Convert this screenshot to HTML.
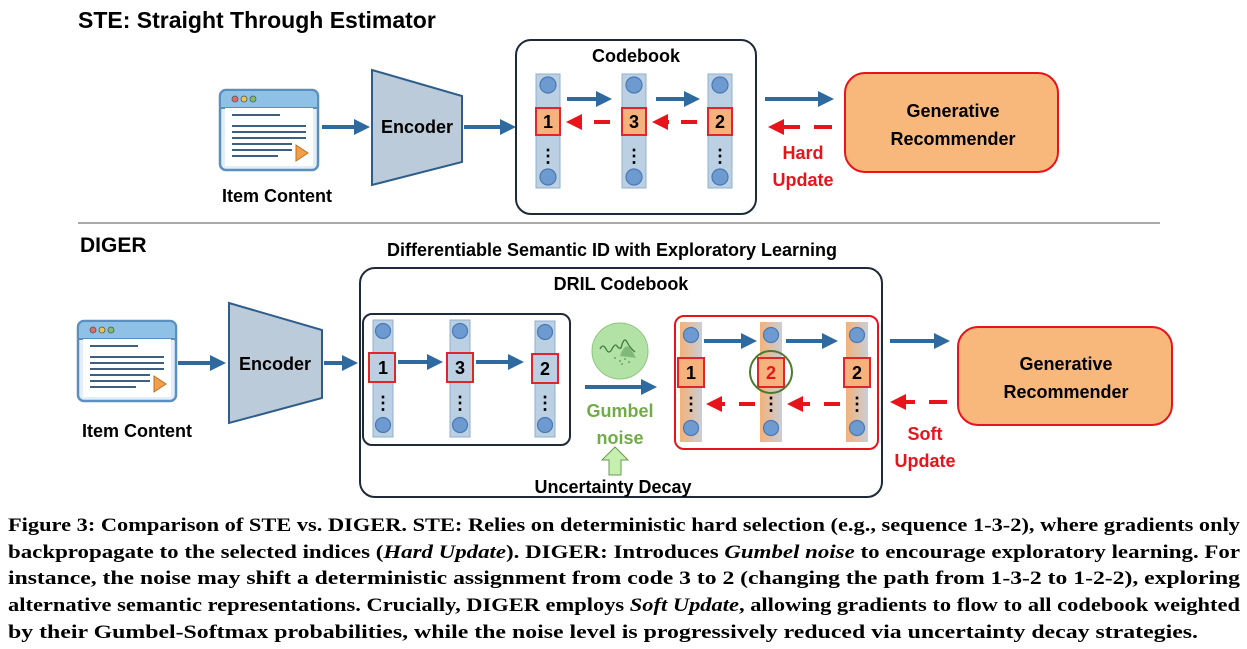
<!DOCTYPE html>
<html><head><meta charset="utf-8"><style>
html,body{margin:0;padding:0;background:#fff;width:1247px;height:649px;overflow:hidden}
svg{display:block}
.s{font-family:"Liberation Sans",sans-serif;font-weight:bold}
.c{font-family:"Liberation Serif",serif;font-weight:bold;font-size:19px}
</style></head><body>
<svg width="1247" height="649" viewBox="0 0 1247 649" xmlns="http://www.w3.org/2000/svg">
<defs>
<marker id="ab" markerWidth="4" markerHeight="4" refX="2.5" refY="2" orient="auto"><path d="M0,0 L4,2 L0,4 z" fill="#2e6aa0"/></marker>
<marker id="ar" markerWidth="4" markerHeight="4" refX="2.5" refY="2" orient="auto"><path d="M0,0 L4,2 L0,4 z" fill="#e8141c"/></marker>
<linearGradient id="og" x1="0" x2="1"><stop offset="0" stop-color="#f4b27a"/><stop offset="1" stop-color="#c9ced6"/></linearGradient>
<g id="icon">
<rect x="0" y="0" width="98" height="80" rx="6" fill="#e3eef8" stroke="#5a8fc0" stroke-width="2.5"/>
<path d="M0,6 a6,6 0 0 1 6,-6 h86 a6,6 0 0 1 6,6 v12 h-98z" fill="#8fc0e6" stroke="#5a8fc0" stroke-width="2"/>
<rect x="5" y="18" width="88" height="58" fill="#fff"/>
<circle cx="15" cy="9" r="3" fill="#e26a6a" stroke="#555" stroke-width="0.8"/>
<circle cx="24" cy="9" r="3" fill="#e8c64a" stroke="#555" stroke-width="0.8"/>
<circle cx="33" cy="9" r="3" fill="#7bc06a" stroke="#555" stroke-width="0.8"/>
<g stroke="#3f5f80" stroke-width="2"><line x1="12" y1="25" x2="60" y2="25"/><line x1="12" y1="36" x2="86" y2="36"/><line x1="12" y1="42" x2="86" y2="42"/><line x1="12" y1="48" x2="86" y2="48"/><line x1="12" y1="54" x2="72" y2="54"/><line x1="12" y1="60" x2="72" y2="60"/><line x1="12" y1="66" x2="58" y2="66"/></g>
<path d="M76,55 L88,63 L76,71z" fill="#f0a04a" stroke="#c07020" stroke-width="1"/>
</g>
</defs>

<!-- STE -->
<text x="78" y="28" class="s" font-size="23">STE: Straight Through Estimator</text>
<use href="#icon" x="220" y="90"/>
<text x="277" y="202" class="s" font-size="18" text-anchor="middle">Item Content</text>
<line x1="322" y1="127" x2="364" y2="127" stroke="#2e6aa0" stroke-width="4" marker-end="url(#ab)"/>
<path d="M372,70 L462,96 L462,162 L372,185z" fill="#bccbd9" stroke="#2e5d8c" stroke-width="2"/>
<text x="417" y="133" class="s" font-size="18" text-anchor="middle">Encoder</text>
<line x1="464" y1="127" x2="510" y2="127" stroke="#2e6aa0" stroke-width="4" marker-end="url(#ab)"/>
<rect x="516" y="40" width="240" height="174" rx="15" fill="#fff" stroke="#1e2a3a" stroke-width="2"/>
<text x="636" y="62" class="s" font-size="18" text-anchor="middle">Codebook</text>
<g>
<rect x="536" y="74" width="24" height="114" fill="#bcd0e4" stroke="#8fb0d0"/>
<rect x="622" y="74" width="24" height="114" fill="#bcd0e4" stroke="#8fb0d0"/>
<rect x="708" y="74" width="24" height="114" fill="#bcd0e4" stroke="#8fb0d0"/>
<g fill="#6d9bd1" stroke="#4a79b0" stroke-width="1.2">
<circle cx="548" cy="85" r="8"/><circle cx="548" cy="177" r="8"/>
<circle cx="634" cy="85" r="8"/><circle cx="634" cy="177" r="8"/>
<circle cx="720" cy="85" r="8"/><circle cx="720" cy="177" r="8"/></g>
<g fill="#f6b27c" stroke="#e0262a" stroke-width="2">
<rect x="536" y="108" width="24" height="27"/><rect x="622" y="108" width="24" height="27"/><rect x="708" y="108" width="24" height="27"/></g>
<g class="s" font-size="18" text-anchor="middle"><text x="548" y="128">1</text><text x="634" y="128">3</text><text x="720" y="128">2</text></g>
<g class="s" font-size="18" text-anchor="middle"><text x="548" y="162">⋮</text><text x="634" y="162">⋮</text><text x="720" y="162">⋮</text></g>
</g>
<line x1="567" y1="99" x2="606" y2="99" stroke="#2e6aa0" stroke-width="4" marker-end="url(#ab)"/>
<line x1="656" y1="99" x2="694" y2="99" stroke="#2e6aa0" stroke-width="4" marker-end="url(#ab)"/>
<line x1="610" y1="122" x2="572" y2="122" stroke="#e8141c" stroke-width="4" stroke-dasharray="16,12" marker-end="url(#ar)"/>
<line x1="697" y1="122" x2="658" y2="122" stroke="#e8141c" stroke-width="4" stroke-dasharray="16,12" marker-end="url(#ar)"/>
<line x1="765" y1="99" x2="828" y2="99" stroke="#2e6aa0" stroke-width="4" marker-end="url(#ab)"/>
<line x1="832" y1="127" x2="774" y2="127" stroke="#e8141c" stroke-width="4" stroke-dasharray="18,14" marker-end="url(#ar)"/>
<text x="803" y="159" class="s" font-size="18" fill="#e8141c" text-anchor="middle">Hard</text>
<text x="803" y="186" class="s" font-size="18" fill="#e8141c" text-anchor="middle">Update</text>
<rect x="845" y="73" width="213" height="99" rx="20" fill="#f8b87c" stroke="#e8141c" stroke-width="2"/>
<text x="953" y="117" class="s" font-size="18" text-anchor="middle">Generative</text>
<text x="953" y="145" class="s" font-size="18" text-anchor="middle">Recommender</text>

<line x1="78" y1="223" x2="1160" y2="223" stroke="#555" stroke-width="1"/>

<!-- DIGER -->
<text x="80" y="252" class="s" font-size="21">DIGER</text>
<text x="612" y="256" class="s" font-size="18" text-anchor="middle">Differentiable Semantic ID with Exploratory Learning</text>
<use href="#icon" x="78" y="321"/>
<text x="137" y="437" class="s" font-size="18" text-anchor="middle">Item Content</text>
<line x1="178" y1="363" x2="220" y2="363" stroke="#2e6aa0" stroke-width="4" marker-end="url(#ab)"/>
<path d="M229,303 L322,330 L322,398 L229,423z" fill="#bccbd9" stroke="#2e5d8c" stroke-width="2"/>
<text x="275" y="370" class="s" font-size="18" text-anchor="middle">Encoder</text>
<line x1="324" y1="363" x2="352" y2="363" stroke="#2e6aa0" stroke-width="4" marker-end="url(#ab)"/>
<rect x="360" y="268" width="522" height="229" rx="15" fill="#fff" stroke="#1e2a3a" stroke-width="2"/>
<text x="621" y="290" class="s" font-size="18" text-anchor="middle">DRIL Codebook</text>
<rect x="363" y="314" width="207" height="131" rx="9" fill="#fff" stroke="#1e2a3a" stroke-width="2"/>
<g>
<rect x="373" y="320" width="20" height="117" fill="#bcd0e4" stroke="#8fb0d0"/>
<rect x="450" y="320" width="20" height="117" fill="#bcd0e4" stroke="#8fb0d0"/>
<rect x="535" y="321" width="20" height="116" fill="#bcd0e4" stroke="#8fb0d0"/>
<g fill="#6d9bd1" stroke="#4a79b0" stroke-width="1.2">
<circle cx="383" cy="331" r="7.5"/><circle cx="383" cy="425" r="7.5"/>
<circle cx="460" cy="331" r="7.5"/><circle cx="460" cy="425" r="7.5"/>
<circle cx="545" cy="332" r="7.5"/><circle cx="545" cy="425" r="7.5"/></g>
<g fill="#bcd0e4" stroke="#e0262a" stroke-width="2">
<rect x="369" y="353" width="26" height="29"/><rect x="447" y="353" width="26" height="29"/><rect x="532" y="354" width="26" height="29"/></g>
<g class="s" font-size="18" text-anchor="middle"><text x="383" y="374">1</text><text x="460" y="374">3</text><text x="545" y="375">2</text></g>
<g class="s" font-size="18" text-anchor="middle"><text x="383" y="409">⋮</text><text x="460" y="409">⋮</text><text x="545" y="409">⋮</text></g>
</g>
<line x1="398" y1="362" x2="437" y2="362" stroke="#2e6aa0" stroke-width="4" marker-end="url(#ab)"/>
<line x1="476" y1="362" x2="518" y2="362" stroke="#2e6aa0" stroke-width="4" marker-end="url(#ab)"/>
<circle cx="620" cy="351" r="28" fill="#b3e2a6" stroke="#8cc67c" stroke-width="1"/>
<path d="M600,349 q3,-6 6,0 t6,0 t5,-3 t4,2 q3,-12 6,-6 q3,6 8,10" fill="none" stroke="#3e7a3a" stroke-width="1.3"/>
<path d="M620,356 q5,-14 10,-8 q3,4 6,10z" fill="#5fa05a" opacity="0.6"/>
<g fill="#3e7a3a"><circle cx="615" cy="358" r="0.8"/><circle cx="620" cy="361" r="0.8"/><circle cx="625" cy="359" r="0.8"/><circle cx="629" cy="362" r="0.8"/><circle cx="622" cy="364" r="0.8"/></g>
<line x1="585" y1="387" x2="651" y2="387" stroke="#2e6aa0" stroke-width="4" marker-end="url(#ab)"/>
<text x="620" y="417" class="s" font-size="18" fill="#70ad47" text-anchor="middle">Gumbel</text>
<text x="620" y="444" class="s" font-size="18" fill="#70ad47" text-anchor="middle">noise</text>
<path d="M615,447 L628,460 L621,460 L621,475 L609,475 L609,460 L602,460z" fill="#c5f0b0" stroke="#6a9a50" stroke-width="1"/>
<text x="613" y="493" class="s" font-size="18" text-anchor="middle">Uncertainty Decay</text>
<rect x="675" y="316" width="203" height="133" rx="9" fill="#fff" stroke="#e8141c" stroke-width="2"/>
<g>
<rect x="680" y="322" width="22" height="120" fill="url(#og)"/>
<rect x="760" y="322" width="22" height="120" fill="url(#og)"/>
<rect x="846" y="322" width="22" height="120" fill="url(#og)"/>
<g fill="#6d9bd1" stroke="#4a79b0" stroke-width="1.2">
<circle cx="691" cy="335" r="7.5"/><circle cx="691" cy="428" r="7.5"/>
<circle cx="771" cy="335" r="7.5"/><circle cx="771" cy="428" r="7.5"/>
<circle cx="857" cy="335" r="7.5"/><circle cx="857" cy="428" r="7.5"/></g>
<g fill="#f6b27c" stroke="#e0262a" stroke-width="2">
<rect x="678" y="358" width="26" height="29"/><rect x="758" y="358" width="26" height="29"/><rect x="844" y="358" width="26" height="29"/></g>
<g class="s" font-size="18" text-anchor="middle"><text x="691" y="379">1</text><text x="771" y="379" fill="#e8141c">2</text><text x="857" y="379">2</text></g>
<g class="s" font-size="18" text-anchor="middle"><text x="691" y="410">⋮</text><text x="771" y="410">⋮</text><text x="857" y="410">⋮</text></g>
<circle cx="771" cy="372" r="21" fill="none" stroke="#4e7a2e" stroke-width="2"/>
</g>
<line x1="704" y1="341" x2="751" y2="341" stroke="#2e6aa0" stroke-width="4" marker-end="url(#ab)"/>
<line x1="786" y1="341" x2="832" y2="341" stroke="#2e6aa0" stroke-width="4" marker-end="url(#ab)"/>
<line x1="755" y1="404" x2="712" y2="404" stroke="#e8141c" stroke-width="4" stroke-dasharray="16,14" marker-end="url(#ar)"/>
<line x1="840" y1="404" x2="793" y2="404" stroke="#e8141c" stroke-width="4" stroke-dasharray="16,14" marker-end="url(#ar)"/>
<line x1="890" y1="341" x2="944" y2="341" stroke="#2e6aa0" stroke-width="4" marker-end="url(#ab)"/>
<line x1="947" y1="402" x2="896" y2="402" stroke="#e8141c" stroke-width="4" stroke-dasharray="18,14" marker-end="url(#ar)"/>
<text x="925" y="440" class="s" font-size="18" fill="#e8141c" text-anchor="middle">Soft</text>
<text x="925" y="467" class="s" font-size="18" fill="#e8141c" text-anchor="middle">Update</text>
<rect x="958" y="327" width="214" height="98" rx="20" fill="#f8b87c" stroke="#e8141c" stroke-width="2"/>
<text x="1066" y="370" class="s" font-size="18" text-anchor="middle">Generative</text>
<text x="1066" y="398" class="s" font-size="18" text-anchor="middle">Recommender</text>

<!-- caption -->
<text x="8" y="531" class="c" textLength="1232" lengthAdjust="spacingAndGlyphs">Figure 3: Comparison of STE vs. DIGER. STE: Relies on deterministic hard selection (e.g., sequence 1-3-2), where gradients only</text>
<text x="8" y="558" class="c" textLength="1232" lengthAdjust="spacingAndGlyphs">backpropagate to the selected indices (<tspan font-style="italic">Hard Update</tspan>). DIGER: Introduces <tspan font-style="italic">Gumbel noise</tspan> to encourage exploratory learning. For</text>
<text x="8" y="584" class="c" textLength="1232" lengthAdjust="spacingAndGlyphs">instance, the noise may shift a deterministic assignment from code 3 to 2 (changing the path from 1-3-2 to 1-2-2), exploring</text>
<text x="8" y="611" class="c" textLength="1232" lengthAdjust="spacingAndGlyphs">alternative semantic representations. Crucially, DIGER employs <tspan font-style="italic">Soft Update</tspan>, allowing gradients to flow to all codebook weighted</text>
<text x="8" y="638" class="c" textLength="1190" lengthAdjust="spacingAndGlyphs">by their Gumbel-Softmax probabilities, while the noise level is progressively reduced via uncertainty decay strategies.</text>
</svg>
</body></html>
